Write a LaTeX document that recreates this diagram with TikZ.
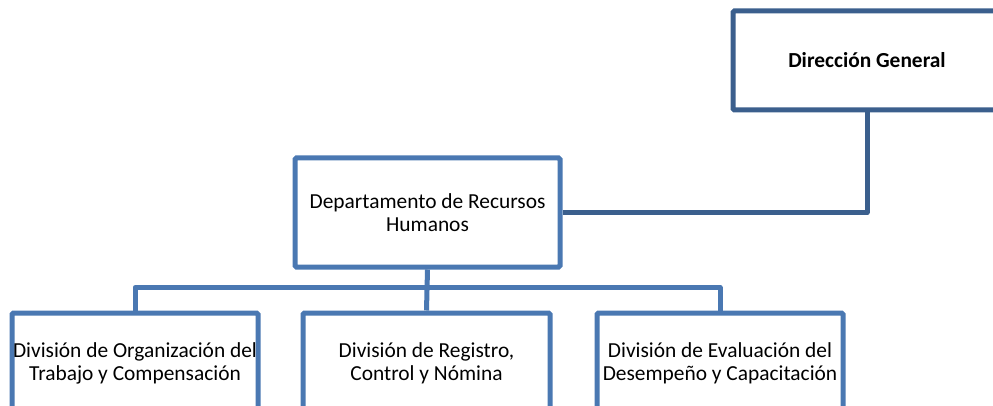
\documentclass[tikz,border=0pt]{standalone}
\usepackage{fontspec}
\setmainfont{Carlito}
\usetikzlibrary{backgrounds}
\definecolor{topblue}{HTML}{3B5F8D}
\definecolor{boxblue}{HTML}{4A78B2}
\begin{document}
\begin{tikzpicture}[x=1pt,y=-1pt,
  box/.style={draw=boxblue, line width=5pt, rounded corners=1.5pt, fill=white, align=center,
    font=\fontsize{21.4}{23}\selectfont, inner sep=0pt, text=black},
  conn/.style={draw=boxblue, line width=5pt, line join=round}]
\useasboundingbox (0,0) rectangle (993,406);
\clip (0,0) rectangle (993,406);
\node[box, draw=topblue, minimum width=268pt, minimum height=99pt,
  font=\fontsize{21.4}{23}\selectfont\bfseries] (dg) at (867,60.5) {Dirección General};
\node[box, minimum width=265pt, minimum height=109pt] (dept) at (427.5,212.5)
  {Departamento de Recursos\\Humanos};
\node[box, minimum width=246pt, minimum height=100pt] (b1) at (135,363)
  {División de Organización del\\Trabajo y Compensación};
\node[box, minimum width=247pt, minimum height=100pt] (b2) at (426.5,363)
  {División de Registro,\\Control y Nómina};
\node[box, minimum width=246pt, minimum height=100pt] (b3) at (720,363)
  {División de Evaluación del\\Desempeño y Capacitación};
\begin{scope}[on background layer]
\draw[conn, draw=topblue] (dg.south) |- (dept.east);
\draw[conn] (dept.south) -- (b2.north);
\draw[conn] (b1.north) -- ++(0,-23) -| (b3.north);
\end{scope}
\end{tikzpicture}
\end{document}
